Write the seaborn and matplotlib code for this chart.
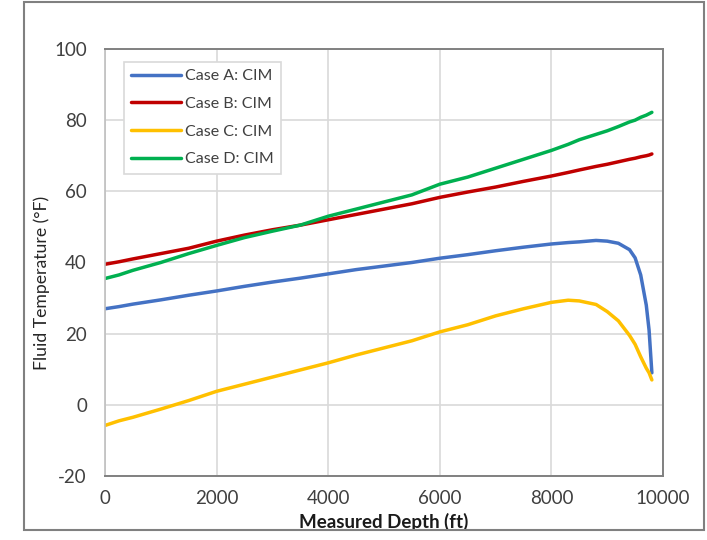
import matplotlib
matplotlib.use("Agg")
import matplotlib.pyplot as plt
import matplotlib.patches as mpatches
import seaborn as sns
import pandas as pd

depth = [0, 250, 500, 1000, 1500, 2000, 2500, 3000, 3500, 4000, 4500, 5000, 5500, 6000,
         6500, 7000, 7500, 8000, 8300, 8500, 8800, 9000, 9200, 9400, 9500, 9600, 9700, 9750, 9800]
case_a = [27.0, 27.6, 28.3, 29.5, 30.8, 32.0, 33.3, 34.5, 35.6, 36.8, 38.0, 39.0, 40.0, 41.2,
          42.2, 43.3, 44.3, 45.2, 45.6, 45.8, 46.2, 46.0, 45.4, 43.6, 41.3, 36.5, 28.0, 21.0, 9.0]
case_b = [39.5, 40.2, 41.0, 42.5, 44.0, 46.0, 47.7, 49.2, 50.5, 52.0, 53.5, 55.0, 56.5, 58.3,
          59.8, 61.2, 62.8, 64.3, 65.3, 66.0, 67.0, 67.6, 68.3, 69.0, 69.3, 69.7, 70.0, 70.2, 70.5]
case_c = [-5.8, -4.5, -3.5, -1.2, 1.2, 3.8, 5.8, 7.8, 9.8, 11.8, 14.0, 16.0, 18.0, 20.5,
          22.5, 25.0, 27.0, 28.8, 29.4, 29.2, 28.2, 26.2, 23.6, 19.5, 17.0, 13.5, 10.3, 9.0, 7.0]
case_d = [35.5, 36.5, 37.8, 40.0, 42.5, 44.8, 47.0, 48.8, 50.5, 53.0, 55.0, 57.0, 59.0, 62.0,
          64.0, 66.5, 69.0, 71.5, 73.2, 74.5, 76.0, 77.0, 78.2, 79.5, 80.0, 80.8, 81.4, 81.8, 82.2]
labels = ["Case A: CIM", "Case B: CIM", "Case C: CIM", "Case D: CIM"]
colors = ["#4472C4", "#C00000", "#FFC000", "#00B050"]
x_ticks = [0, 2000, 4000, 6000, 8000, 10000]
y_ticks = [-20, 0, 20, 40, 60, 80, 100]

frames = []
for lab, vals in zip(labels, [case_a, case_b, case_c, case_d]):
    frames.append(pd.DataFrame({"depth": depth, "temp": vals, "case": lab}))
df = pd.concat(frames, ignore_index=True)

sns.set_theme(style="white")
plt.rcParams["font.family"] = ["Lato", "DejaVu Sans"]
plt.rcParams["axes.unicode_minus"] = False

fig = plt.figure(figsize=(7.07, 5.40), dpi=100)
ax = fig.add_axes([0.1485, 0.1185, 0.7893, 0.7908])

sns.lineplot(data=df, x="depth", y="temp", hue="case", palette=colors,
             linewidth=2.5, ax=ax, sort=False, estimator=None)

ax.set_xlim(0, 10000)
ax.set_ylim(-20, 100)
ax.set_xticks(x_ticks)
ax.set_yticks(y_ticks)
ax.grid(True, color="#d9d9d9", linewidth=1.2)
ax.set_axisbelow(True)
ax.tick_params(axis="both", length=0, labelsize=13.5, colors="#404040")
ax.tick_params(axis="y", pad=13)
ax.tick_params(axis="x", pad=10)
for side in ["top", "right", "bottom"]:
    ax.spines[side].set_color("#808080")
    ax.spines[side].set_linewidth(1.4)
ax.spines["left"].set_color("#bfbfbf")
ax.spines["left"].set_linewidth(1.2)

ax.set_xlabel("Measured Depth (ft)", fontsize=13.5, fontweight="bold", color="#1a1a1a", labelpad=4)
ax.set_ylabel("Fluid Temperature (°F)", fontsize=12.7, color="#262626")
ax.yaxis.label.set_va("center")
ax.yaxis.set_label_coords(-0.113, 0.452)

leg = ax.legend(loc="upper left", bbox_to_anchor=(0.034, 0.97), borderaxespad=0,
                fontsize=11.5, frameon=True, fancybox=False, edgecolor="#d9d9d9", framealpha=1,
                handlelength=3.1, handletextpad=0.3, labelspacing=0.85,
                borderpad=0.45, title=None)
leg.get_frame().set_linewidth(1.2)
for t in leg.get_texts():
    t.set_color("#404040")

fig.patches.append(mpatches.Rectangle((24 / 707, 1 - 530 / 540), 680 / 707, 528 / 540,
                                      transform=fig.transFigure, fill=False,
                                      edgecolor="#808080", linewidth=1.5))

fig.savefig("out.png", dpi=100)
